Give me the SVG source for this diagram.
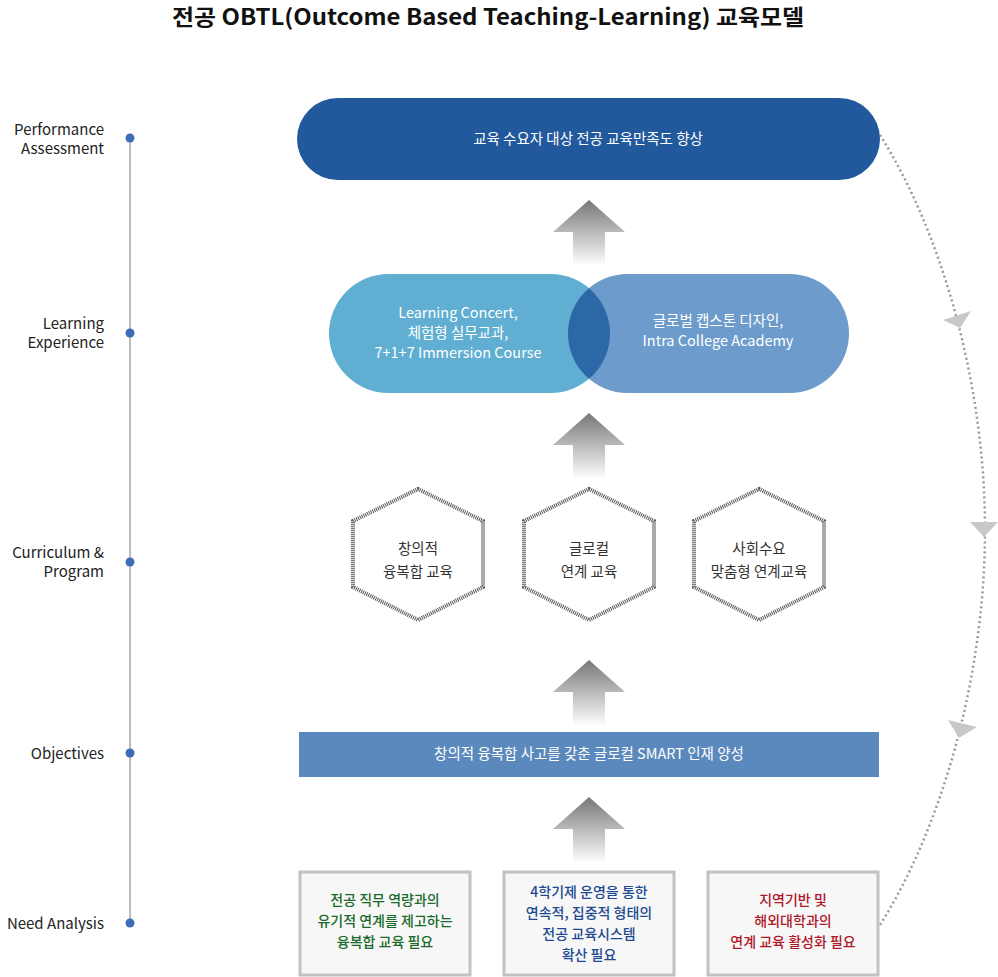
<svg xmlns="http://www.w3.org/2000/svg" width="998" height="977" viewBox="0 0 998 977">
<style>
text{font-family:"Noto Sans CJK KR","Noto Sans",sans-serif;}
.lbl{font-size:15px;fill:#222;text-anchor:end;}
.w{font-size:14.5px;fill:#fff;text-anchor:middle;}
.h{font-size:14.5px;fill:#333;text-anchor:middle;}
.hex{fill:#fff;stroke:#555;stroke-width:4;stroke-dasharray:1 1;}
.box{fill:#f7f7f7;stroke:#c2c2c2;stroke-width:3;}
.b{font-size:14px;text-anchor:middle;font-weight:500;}
</style>
<defs>
<linearGradient id="ag" x1="0" y1="0" x2="0" y2="1"><stop offset="0" stop-color="#777"/><stop offset="1" stop-color="#fff"/></linearGradient>
<path id="arr" d="M0,0 L36,32 L16,32 L16,66 L-16,66 L-16,32 L-36,32 Z" fill="url(#ag)"/>
<clipPath id="lc"><rect x="329" y="274" width="281" height="119" rx="59.5"/></clipPath>
</defs>
<text x="488" y="25" font-size="22" font-weight="bold" text-anchor="middle" fill="#111" textLength="632" lengthAdjust="spacingAndGlyphs">전공 OBTL(Outcome Based Teaching-Learning) 교육모델</text>
<g id="timeline">
<line x1="130" y1="138" x2="130" y2="923" stroke="#bbb" stroke-width="2"/>
<g fill="#3d6db4"><circle cx="130" cy="138" r="4.5"/><circle cx="130" cy="333" r="4.5"/><circle cx="130" cy="562" r="4.5"/><circle cx="130" cy="753" r="4.5"/><circle cx="130" cy="923" r="4.5"/></g>
<text class="lbl" x="104" y="135">Performance</text><text class="lbl" x="104" y="154">Assessment</text>
<text class="lbl" x="104" y="329">Learning</text><text class="lbl" x="104" y="348">Experience</text>
<text class="lbl" x="104" y="558">Curriculum &amp;</text><text class="lbl" x="104" y="577">Program</text>
<text class="lbl" x="104" y="759">Objectives</text>
<text class="lbl" x="104" y="929">Need Analysis</text>
</g>
<g id="connectors">
<use href="#arr" x="589" y="200"/>
<use href="#arr" x="589" y="413"/>
<use href="#arr" x="589" y="660"/>
<use href="#arr" x="589" y="797"/>
<path d="M880,135 C940,230 985,380 985,530 C985,680 940,830 880,925" fill="none" stroke="#999" stroke-width="2.5" stroke-dasharray="2 3"/>
<g fill="#c8c8c8"><polygon points="943,320 971,311 960,328"/><polygon points="970,522 998,522 984,537"/><polygon points="948,720 977,727 959,738"/></g>
</g>
<g id="assessment">
<rect x="297" y="98" width="583" height="82" rx="41" fill="#22599c"/>
<text class="w" x="588" y="144">교육 수요자 대상 전공 교육만족도 향상</text>
</g>
<g id="learning">
<rect x="329" y="274" width="281" height="119" rx="59.5" fill="#60aed1"/>
<rect x="568" y="274" width="281" height="119" rx="59.5" fill="#6d9ccc"/>
<rect x="568" y="274" width="281" height="119" rx="59.5" fill="#2c67a6" clip-path="url(#lc)"/>
<text class="w" x="458" y="318">Learning Concert,</text>
<text class="w" x="458" y="338">체험형 실무교과,</text>
<text class="w" x="458" y="358">7+1+7 Immersion Course</text>
<text class="w" x="718" y="326">글로벌 캡스톤 디자인,</text>
<text class="w" x="718" y="346">Intra College Academy</text>
</g>
<g id="hex1"><polygon class="hex" points="418,489 483,521 483,587 418,620 353,587 353,521"/><text class="h" x="418" y="554">창의적</text><text class="h" x="418" y="577">융복합 교육</text></g>
<g id="hex2"><polygon class="hex" points="589,489 654,521 654,587 589,620 524,587 524,521"/><text class="h" x="589" y="554">글로컬</text><text class="h" x="589" y="577">연계 교육</text></g>
<g id="hex3"><polygon class="hex" points="759,489 824,521 824,587 759,620 694,587 694,521"/><text class="h" x="759" y="554">사회수요</text><text class="h" x="759" y="577">맞춤형 연계교육</text></g>
<g id="objectives">
<rect x="299" y="732" width="580" height="45" fill="#5b89bd"/>
<text class="w" x="589" y="759">창의적 융복합 사고를 갖춘 글로컬 SMART 인재 양성</text>
</g>
<g id="need1"><rect class="box" x="300" y="872" width="170" height="103"/>
<g class="b" fill="#1a6a2b"><text x="385" y="905">전공 직무 역량과의</text><text x="385" y="926">유기적 연계를 제고하는</text><text x="385" y="947">융복합 교육 필요</text></g></g>
<g id="need2"><rect class="box" x="504" y="872" width="170" height="103"/>
<g class="b" fill="#1d4a91"><text x="589" y="897">4학기제 운영을 통한</text><text x="589" y="918">연속적, 집중적 형태의</text><text x="589" y="939">전공 교육시스템</text><text x="589" y="960">확산 필요</text></g></g>
<g id="need3"><rect class="box" x="708" y="872" width="170" height="103"/>
<g class="b" fill="#b0182a"><text x="793" y="905">지역기반 및</text><text x="793" y="926">해외대학과의</text><text x="793" y="947">연계 교육 활성화 필요</text></g></g>
</svg>
